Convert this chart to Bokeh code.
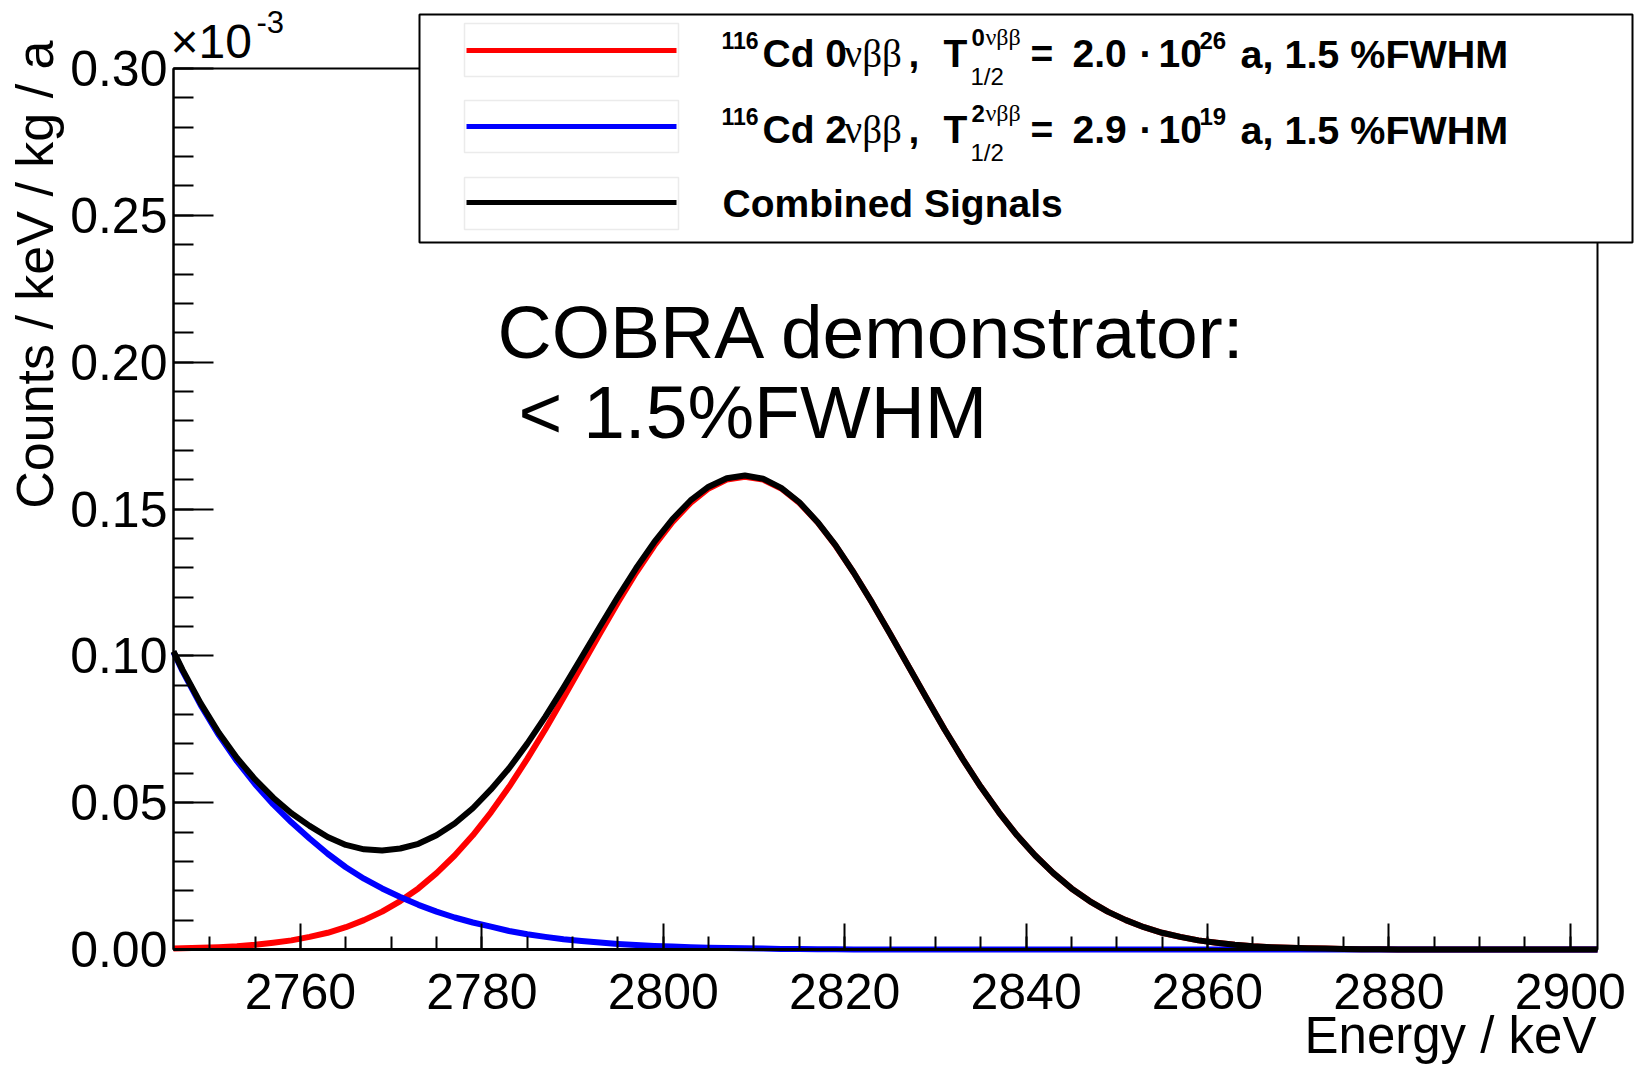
import math
from bokeh.plotting import figure
from bokeh.models import Range1d, FixedTicker, PrintfTickFormatter, Label, BoxAnnotation
from bokeh.embed import file_html
from bokeh.resources import INLINE

# ---------------- data (counts / keV / kg / a in units of 1e-3) ----------------
energy_keV = [2746, 2747, 2749, 2751, 2753, 2755, 2757, 2759, 2761, 2763,
              2765, 2767, 2769, 2771, 2773, 2775, 2777, 2779, 2781, 2783,
              2785, 2787, 2789, 2791, 2793, 2795, 2797, 2799, 2801, 2803,
              2805, 2807, 2809, 2811, 2813, 2815, 2817, 2819, 2821, 2823,
              2825, 2827, 2829, 2831, 2833, 2835, 2837, 2839, 2841, 2843,
              2845, 2847, 2849, 2851, 2853, 2855, 2857, 2859, 2861, 2863,
              2865, 2867, 2869, 2871, 2873, 2875, 2877, 2879, 2881, 2883,
              2885, 2887, 2889, 2891, 2893, 2895, 2897, 2899, 2901, 2903]

rate_0nbb = [0.0003, 0.0004, 0.0006, 0.0008, 0.0011, 0.0016, 0.0023, 0.0031, 0.0043, 0.0057,
             0.0076, 0.0100, 0.0129, 0.0165, 0.0208, 0.0260, 0.0320, 0.0389, 0.0467, 0.0554,
             0.0649, 0.0750, 0.0857, 0.0966, 0.1075, 0.1182, 0.1283, 0.1375, 0.1455, 0.1521,
             0.1570, 0.1600, 0.1610, 0.1600, 0.1570, 0.1521, 0.1455, 0.1375, 0.1283, 0.1182,
             0.1075, 0.0966, 0.0857, 0.0750, 0.0649, 0.0554, 0.0467, 0.0389, 0.0320, 0.0260,
             0.0208, 0.0165, 0.0129, 0.0100, 0.0076, 0.0057, 0.0043, 0.0031, 0.0023, 0.0016,
             0.0011, 0.0008, 0.0006, 0.0004, 0.0003, 0.0002, 0.0001, 0.0001, 0.0000, 0.0000,
             0.0000, 0.0000, 0.0000, 0.0000, 0.0000, 0.0000, 0.0000, 0.0000, 0.0000, 0.0000]

rate_2nbb = [0.1012, 0.0948, 0.0832, 0.0730, 0.0641, 0.0563, 0.0494, 0.0433, 0.0378, 0.0326,
             0.0280, 0.0241, 0.0208, 0.0179, 0.0152, 0.0129, 0.0109, 0.0092, 0.0078, 0.0063,
             0.0052, 0.0043, 0.0035, 0.0029, 0.0024, 0.0019, 0.0015, 0.0012, 0.0010, 0.0008,
             0.0006, 0.0005, 0.0004, 0.0003, 0.0002, 0.0002, 0.0001, 0.0001, 0.0000, 0.0000,
             0.0000, 0.0000, 0.0000, 0.0000, 0.0000, 0.0000, 0.0000, 0.0000, 0.0000, 0.0000,
             0.0000, 0.0000, 0.0000, 0.0000, 0.0000, 0.0000, 0.0000, 0.0000, 0.0000, 0.0000,
             0.0000, 0.0000, 0.0000, 0.0000, 0.0000, 0.0000, 0.0000, 0.0000, 0.0000, 0.0000,
             0.0000, 0.0000, 0.0000, 0.0000, 0.0000, 0.0000, 0.0000, 0.0000, 0.0000, 0.0000]

rate_combined = [0.1015, 0.0952, 0.0838, 0.0738, 0.0652, 0.0579, 0.0517, 0.0464, 0.0421, 0.0383,
                 0.0356, 0.0341, 0.0337, 0.0344, 0.0360, 0.0389, 0.0429, 0.0481, 0.0545, 0.0617,
                 0.0701, 0.0793, 0.0892, 0.0995, 0.1099, 0.1201, 0.1298, 0.1387, 0.1465, 0.1529,
                 0.1576, 0.1605, 0.1614, 0.1603, 0.1572, 0.1523, 0.1456, 0.1376, 0.1283, 0.1182,
                 0.1075, 0.0966, 0.0857, 0.0750, 0.0649, 0.0554, 0.0467, 0.0389, 0.0320, 0.0260,
                 0.0208, 0.0165, 0.0129, 0.0100, 0.0076, 0.0057, 0.0043, 0.0031, 0.0023, 0.0016,
                 0.0011, 0.0008, 0.0006, 0.0004, 0.0003, 0.0002, 0.0001, 0.0001, 0.0000, 0.0000,
                 0.0000, 0.0000, 0.0000, 0.0000, 0.0000, 0.0000, 0.0000, 0.0000, 0.0000, 0.0000]

x_ticks = [2760, 2780, 2800, 2820, 2840, 2860, 2880, 2900]
y_ticks = [0.00, 0.05, 0.10, 0.15, 0.20, 0.25, 0.30]

legend_isotope = "116"
legend_modes = ["0", "2"]
legend_halflife = ["2.0", "2.9"]
legend_exponent = ["26", "19"]
legend_tail = "a, 1.5 %FWHM"
legend_combined = "Combined Signals"
series_colors = ["#ff0000", "#0000ff", "#000000"]

annotation_lines = ["COBRA demonstrator:", "< 1.5%FWHM"]
x_title = "Energy / keV"
y_title = "Counts / keV / kg / a"

# ---------------- layout (pixel geometry of the data box on the canvas) ----------------
W, H = 1635, 1065
FL, FR, FT, FB = 173, 1597, 68, 949
X0, X1 = 2746, 2903
Y0, Y1 = 0.0, 0.30
SX = (X1 - X0) / (FR - FL)
SY = (Y1 - Y0) / (FB - FT)
SANS = "Liberation Sans"
SERIF = "Liberation Serif"
MID = 0.35  # bokeh "middle" baseline sits this many em above the alphabetic baseline


def dx(px):
    return X0 + (px - FL) * SX


def dy(py):
    return Y1 - (py - FT) * SY


p = figure(width=W, height=H, output_backend="svg", toolbar_location=None,
           x_range=Range1d(dx(0), dx(W)), y_range=Range1d(dy(H), dy(0)),
           min_border_left=0, min_border_right=0, min_border_top=0, min_border_bottom=0,
           background_fill_color="white", border_fill_color="white",
           outline_line_color=None)
p.grid.visible = False

for ys, col in zip([rate_0nbb, rate_2nbb, rate_combined], series_colors):
    p.line(energy_keV, ys, line_color=col, line_width=6, line_join="round")

xa = p.xaxis[0]
xa.fixed_location = Y0
xa.bounds = (X0, X1)
xa.ticker = FixedTicker(ticks=x_ticks, minor_ticks=[2750 + 5 * i for i in range(31)])
xa.formatter = PrintfTickFormatter(format="%d")
xa.major_label_text_font = SANS
xa.major_label_text_font_size = "50px"
xa.major_label_text_color = "black"
xa.major_tick_in = 26
xa.major_tick_out = 0
xa.minor_tick_in = 13
xa.minor_tick_out = 0
xa.major_tick_line_width = 2
xa.minor_tick_line_width = 2
xa.major_tick_line_color = "black"
xa.minor_tick_line_color = "black"
xa.axis_line_width = 3
xa.axis_line_color = "black"
xa.major_label_standoff = 24

ya = p.yaxis[0]
ya.fixed_location = X0
ya.bounds = (Y0, Y1)
ya.ticker = FixedTicker(ticks=y_ticks, minor_ticks=[0.01 * i for i in range(31)])
ya.formatter = PrintfTickFormatter(format="%.2f")
ya.major_label_text_font = SANS
ya.major_label_text_font_size = "50px"
ya.major_label_text_color = "black"
ya.major_tick_in = 40
ya.major_tick_out = 0
ya.minor_tick_in = 20
ya.minor_tick_out = 0
ya.major_tick_line_width = 2
ya.minor_tick_line_width = 2
ya.major_tick_line_color = "black"
ya.minor_tick_line_color = "black"
ya.axis_line_width = 2
ya.axis_line_color = "black"
ya.major_label_standoff = 6

# frame of the data box
p.add_layout(BoxAnnotation(left=X0, right=X1, bottom=Y0, top=Y1,
                           fill_alpha=0.0, line_color="black", line_alpha=1.0, line_width=2))


def lab(text, px, base_py, size, font=SANS, style="normal", align="left", angle=0.0):
    if angle == 0.0:
        ax_, ay_ = px, base_py - MID * size
    else:  # rotated by +90 deg: glyph "up" points to -x
        ax_, ay_ = px - MID * size, base_py
    p.add_layout(Label(x=dx(ax_), y=dy(ay_), text=text, text_font=font,
                       text_font_size=f"{size}px", text_font_style=style,
                       text_align=align, text_baseline="middle",
                       angle=angle, text_color="black"))


# axis titles and exponent
lab(y_title, 53, 40, 52, align="right", angle=math.pi / 2)
lab(x_title, 1596, 1053, 51, align="right")
lab("\u00d710", 170, 58, 48)
lab("-3", 256, 32, 31)

# annotation text
lab(annotation_lines[0], 497, 358, 75)
lab(annotation_lines[1], 518, 438, 75)

# legend box
p.add_layout(BoxAnnotation(left=dx(419), right=dx(1632), top=dy(14), bottom=dy(242),
                           fill_color="white", fill_alpha=1.0, line_color="black",
                           line_alpha=1.0, line_width=2))

row_base = [67, 143, 217]
swatch_box = [(23, 76), (100, 152), (177, 229)]
swatch_line = [50, 126, 202]
for i in range(3):
    t, b = swatch_box[i]
    p.add_layout(BoxAnnotation(left=dx(464), right=dx(678), top=dy(t), bottom=dy(b),
                               fill_alpha=0.0, line_color="#ebebeb", line_alpha=1.0, line_width=1.5))
    yc = swatch_line[i]
    p.add_layout(BoxAnnotation(left=dx(466), right=dx(676), top=dy(yc - 2.5), bottom=dy(yc + 2.5),
                               fill_color=series_colors[i], fill_alpha=1.0, line_color=None))

for i in range(2):
    B = row_base[i]
    lab(legend_isotope, 721, B - 19, 23, style="bold")
    lab("Cd " + legend_modes[i], 762, B, 39, style="bold")
    lab("\u03bd\u03b2\u03b2", 844, B, 39, font=SERIF)
    lab(",", 908, B, 39, style="bold")
    lab("T", 943, B, 39, style="bold")
    lab(legend_modes[i], 971, B - 22, 24, style="bold")
    lab("\u03bd\u03b2\u03b2", 985, B - 22, 24, font=SERIF)
    lab("1/2", 970, B + 17, 24)
    lab("=", 1030, B, 39, style="bold")
    lab(legend_halflife[i], 1072, B, 39, style="bold")
    lab("\u00b7", 1139, B, 39, style="bold")
    lab("10", 1158, B, 39, style="bold")
    lab(legend_exponent[i], 1199, B - 19, 24, style="bold")
    lab(legend_tail, 1240, B, 39.5, style="bold")

lab(legend_combined, 722, row_base[2], 39, style="bold")

open("out.html", "w").write(file_html(p, INLINE))
